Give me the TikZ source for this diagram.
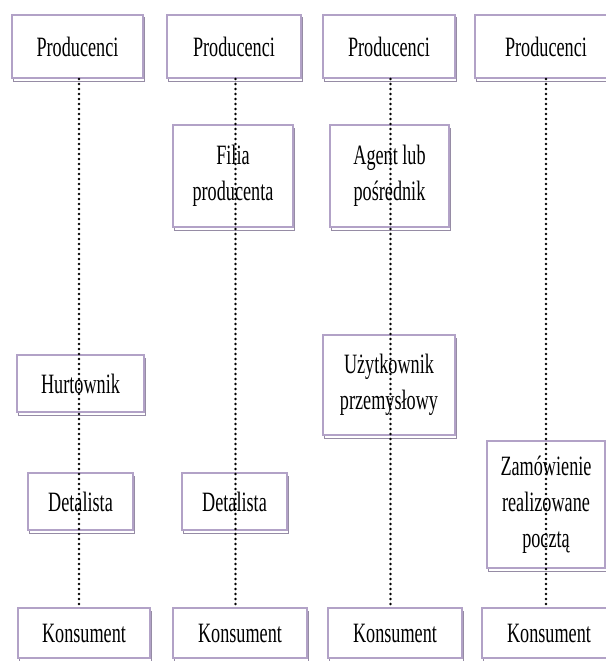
\documentclass[tikz,border=0pt]{standalone}
\usepackage{fontspec}
\setmainfont[FakeStretch=0.65]{Liberation Serif}
\usetikzlibrary{shadows}

\definecolor{boxlilac}{RGB}{178,162,199}
\definecolor{shadowlilac}{RGB}{150,140,165}

\begin{document}
\begin{tikzpicture}[
    x=1pt, y=-1pt,
    box/.style={draw=boxlilac, fill=white, line width=2pt, rectangle, inner sep=0pt,
        align=center, font=\fontsize{28}{36}\selectfont,
        copy shadow={shadow xshift=1.5pt, shadow yshift=-3pt, draw=shadowlilac, line width=1pt}},
    dotline/.style={line width=2.6pt, line cap=round, dash pattern=on 0pt off 5pt}
]
\useasboundingbox (0,0) rectangle (605,661);

% Producers
\node[box, minimum width=131pt, minimum height=63pt] (prod1) at (77.5,46.5) {Producenci};
\node[box, minimum width=134pt, minimum height=63pt] (prod2) at (234,46.5) {Producenci};
\node[box, minimum width=132pt, minimum height=63pt] (prod3) at (389,46.5) {Producenci};
\node[box, minimum width=142pt, minimum height=63pt] (prod4) at (546,46.5) {Producenci};

% Intermediaries
\node[box, minimum width=120pt, minimum height=102pt] (filia) at (233,176) {Filia\\producenta};
\node[box, minimum width=119pt, minimum height=102pt] (agent) at (389.5,176) {Agent lub\\pośrednik};
\node[box, minimum width=127pt, minimum height=57pt] (hurt) at (80.5,383.5) {Hurtownik};
\node[box, minimum width=132pt, minimum height=100pt] (uzyt) at (389,385) {Użytkownik\\przemysłowy};
\node[box, minimum width=105pt, minimum height=57pt] (det1) at (80.5,501.5) {Detalista};
\node[box, minimum width=105pt, minimum height=57pt] (det2) at (234.5,501.5) {Detalista};
\node[box, minimum width=118pt, minimum height=127pt] (zam) at (546,504.5) {Zamówienie\\realizowane\\pocztą};

% Consumers
\node[box, minimum width=132pt, minimum height=50pt] (kons1) at (84,633) {Konsument};
\node[box, minimum width=134pt, minimum height=50pt] (kons2) at (240,633) {Konsument};
\node[box, minimum width=134pt, minimum height=50pt] (kons3) at (395,633) {Konsument};
\node[box, minimum width=134pt, minimum height=50pt] (kons4) at (549,633) {Konsument};

% Channels
\foreach \i in {1,2,3}
    \draw[dotline] ([xshift=1.5pt]prod\i.south) -- ([xshift=1.5pt]prod\i.south |- kons\i.north);
\draw[dotline] (prod4.south) -- (prod4.south |- kons4.north);
\end{tikzpicture}
\end{document}
